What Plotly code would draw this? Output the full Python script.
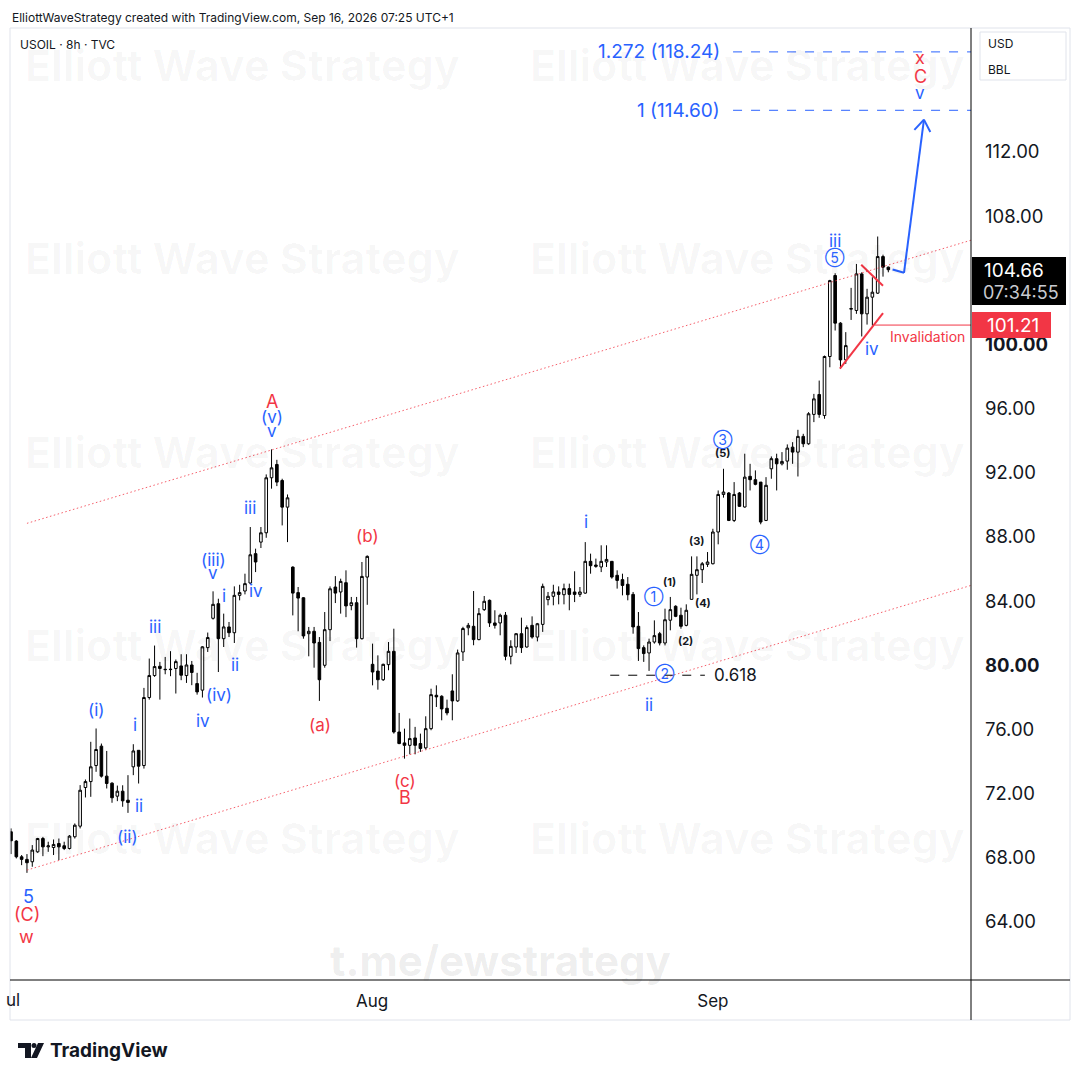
import plotly.graph_objects as go

# ---------------- data (USOIL 8h candles) ----------------
opens = [69.62, 69.04, 68.06, 67.90, 67.75, 68.37, 69.20, 68.68, 68.64, 68.89,
         68.75, 68.58, 69.31, 69.97, 72.38, 72.75, 73.75, 74.96, 73.09, 72.65,
         71.84, 72.15, 71.59, 73.67, 74.70, 73.75, 77.99, 79.36, 79.94, 79.75,
         79.73, 79.80, 79.96, 79.36, 80.02, 78.86, 78.45, 81.10, 82.93, 83.84,
         81.66, 82.39, 82.03, 84.36, 84.63, 85.13, 86.96, 87.68, 88.26, 91.69,
         92.52, 91.52, 89.86, 86.12, 84.53, 84.21, 81.97, 82.12, 81.43, 80.00,
         82.22, 84.88, 84.57, 85.15, 83.72, 83.90, 81.66, 85.50, 80.06, 79.64,
         79.10, 80.04, 80.87, 75.84, 75.16, 75.01, 75.47, 75.12, 74.85, 76.05,
         78.13, 78.07, 77.32, 78.40, 77.78, 80.83, 82.34, 82.43, 81.60, 83.47,
         84.05, 82.64, 82.64, 83.12, 80.56, 81.14, 81.97, 81.14, 82.49, 81.76,
         82.55, 84.09, 84.30, 84.57, 84.40, 84.78, 84.57, 84.42, 84.50, 86.48,
         86.25, 86.13, 86.44, 86.48, 85.61, 85.34, 85.05, 84.42, 82.43, 81.10,
         80.77, 81.45, 81.97, 81.39, 82.81, 83.68, 83.12, 82.49, 84.11, 85.61,
         85.96, 86.29, 86.33, 88.31, 90.65, 90.74, 89.03, 90.74, 89.87, 91.78,
         91.57, 91.42, 89.03, 92.25, 92.88, 92.56, 92.73, 93.60, 93.29, 94.27,
         93.81, 95.64, 96.88, 95.57, 99.25, 104.30, 101.33, 99.04, 102.20, 102.12,
         104.40, 101.91, 102.95, 103.20, 105.48, 104.82]
highs = [69.83, 69.10, 68.17, 68.23, 68.79, 69.24, 69.30, 69.00, 69.14, 69.20,
         69.00, 69.41, 70.14, 72.53, 72.88, 75.23, 76.06, 75.12, 74.66, 72.71,
         72.50, 72.52, 73.15, 75.08, 74.70, 78.59, 80.42, 81.23, 80.21, 80.52,
         80.88, 80.36, 80.69, 80.69, 80.27, 79.53, 81.19, 82.04, 84.61, 84.15,
         83.22, 82.70, 84.92, 85.02, 85.71, 88.62, 87.27, 88.62, 91.90, 93.46,
         92.81, 91.63, 90.65, 86.17, 84.88, 84.25, 82.39, 82.39, 81.76, 83.32,
         84.92, 85.56, 85.40, 85.92, 84.26, 84.26, 86.44, 86.85, 81.35, 80.62,
         80.10, 81.45, 82.28, 77.03, 76.05, 76.68, 76.16, 75.74, 76.82, 78.54,
         78.75, 78.13, 77.86, 79.44, 80.98, 82.40, 82.64, 84.63, 83.57, 84.32,
         84.10, 83.43, 83.22, 83.32, 81.56, 82.00, 82.97, 82.49, 83.05, 82.64,
         85.09, 84.57, 85.02, 84.92, 85.09, 85.09, 85.86, 84.88, 87.68, 86.96,
         86.65, 87.48, 87.48, 86.50, 85.92, 85.71, 85.50, 84.57, 83.32, 81.24,
         81.66, 82.80, 82.08, 83.53, 84.26, 83.74, 83.59, 83.80, 86.79, 86.79,
         86.44, 87.06, 88.51, 90.90, 92.25, 90.80, 91.42, 90.80, 93.19, 92.56,
         92.15, 91.42, 91.73, 93.02, 93.19, 93.29, 93.77, 93.91, 94.68, 94.43,
         95.78, 96.92, 97.75, 99.31, 104.03, 104.44, 101.39, 100.77, 103.53, 105.02,
         104.50, 103.47, 104.19, 106.73, 105.60, 104.86]
lows = [68.23, 67.96, 67.54, 67.06, 67.44, 68.31, 68.10, 68.37, 68.17, 67.85,
        68.48, 68.52, 69.20, 69.83, 71.76, 71.80, 73.36, 73.00, 72.32, 71.43,
        71.53, 71.18, 70.80, 73.15, 72.63, 73.56, 77.86, 79.28, 77.86, 79.44,
        79.32, 78.24, 79.07, 78.90, 78.76, 78.17, 77.99, 80.83, 82.85, 79.58,
        81.14, 81.76, 81.39, 84.05, 84.42, 85.05, 85.81, 87.31, 87.95, 91.01,
        91.17, 88.72, 87.68, 83.11, 82.12, 81.66, 80.56, 79.85, 77.78, 79.85,
        81.51, 83.88, 83.22, 83.00, 83.43, 81.10, 81.60, 83.77, 78.75, 78.48,
        79.02, 79.69, 75.74, 75.08, 74.18, 74.45, 74.45, 74.60, 74.75, 75.95,
        77.40, 76.57, 76.88, 76.57, 77.72, 80.27, 81.87, 81.25, 81.56, 83.39,
        82.39, 82.29, 81.87, 80.31, 80.06, 80.77, 80.77, 81.10, 81.66, 81.49,
        82.08, 83.74, 83.74, 83.80, 83.80, 83.43, 83.94, 84.26, 84.46, 85.71,
        86.08, 85.81, 86.13, 85.40, 84.78, 84.36, 84.05, 81.97, 80.27, 80.21,
        79.65, 81.35, 81.24, 81.24, 82.18, 83.00, 82.28, 82.43, 84.09, 84.42,
        85.13, 86.13, 86.29, 87.54, 90.45, 88.99, 88.93, 89.87, 89.82, 90.90,
        91.22, 88.79, 88.99, 91.63, 90.90, 92.46, 92.19, 92.56, 91.77, 93.60,
        93.75, 95.16, 95.43, 95.37, 98.58, 100.87, 98.48, 98.79, 101.53, 101.91,
        100.50, 101.24, 101.18, 103.15, 104.23, 104.50]
closes = [69.06, 68.06, 67.90, 67.69, 68.48, 69.20, 68.68, 68.74, 68.83, 68.68,
          68.58, 69.35, 70.03, 72.21, 72.75, 73.67, 74.75, 73.09, 72.63, 71.74,
          72.15, 71.55, 71.45, 74.66, 73.71, 77.99, 79.36, 79.92, 79.80, 79.73,
          79.75, 80.23, 79.38, 80.02, 79.55, 78.34, 81.15, 81.73, 83.80, 81.66,
          82.39, 82.03, 84.36, 84.53, 85.09, 86.89, 86.44, 88.26, 91.69, 92.31,
          91.42, 89.86, 90.44, 84.50, 84.19, 81.83, 82.12, 81.39, 79.10, 82.22,
          84.77, 84.50, 85.23, 83.70, 83.90, 81.66, 85.54, 86.79, 79.58, 79.10,
          80.06, 80.87, 75.84, 75.12, 75.01, 75.43, 75.01, 74.81, 76.05, 78.17,
          78.03, 77.28, 77.03, 77.78, 80.77, 82.29, 82.49, 81.60, 83.22, 83.99,
          82.64, 82.49, 83.12, 80.56, 81.18, 81.97, 81.10, 82.35, 81.76, 82.59,
          84.92, 84.30, 84.57, 84.42, 84.78, 84.42, 84.42, 84.57, 86.48, 86.21,
          86.17, 86.48, 86.60, 85.50, 85.29, 84.98, 84.40, 82.39, 81.04, 80.73,
          81.45, 81.85, 81.39, 82.84, 83.47, 83.05, 82.43, 83.43, 85.67, 85.96,
          86.33, 86.44, 88.31, 90.65, 90.80, 89.03, 90.65, 89.91, 91.73, 91.57,
          91.28, 88.93, 91.22, 92.88, 92.56, 92.71, 93.54, 93.29, 94.27, 93.81,
          95.68, 96.61, 95.64, 99.25, 103.98, 101.33, 99.04, 99.93, 102.24, 104.40,
          101.91, 102.95, 103.26, 105.48, 104.82, 104.66]
bar_index = list(range(len(opens)))

month_labels = ["Aug", "Sep"]
month_pos = [67.9, 132.0]
price_ticks = [64, 68, 72, 76, 80, 84, 88, 92, 96, 100, 108, 112]
bold_ticks = [80, 100]

last_price = 104.66
countdown = "07:34:55"
invalidation = 101.21
fib_levels = [118.24, 114.60]
fib_texts = ["1.272 (118.24)", "1 (114.60)"]
retrace_level = 79.38
retrace_text = "0.618"

# drawn lines (bar index, price)
channel_upper = [(3.0, 88.85), (180.55, 106.50)]
channel_lower = [(3.0, 67.23), (180.55, 84.98)]
tri_upper = [(159.9, 104.97), (164.0, 103.66)]
tri_lower = [(155.9, 98.49), (164.0, 101.95)]
projection = [(165.8, 104.67), (167.95, 104.47), (171.7, 114.02)]
arrow_head = [(169.9, 113.38), (171.7, 114.02), (172.9, 113.25)]
retrace_span = (112.7, 130.5)
fib_start = 135.8
invalid_start = 162.5

BLUE = "#2962ff"
RED = "#f23645"
BLACK = "#131722"

# wave labels: text, bar index, price, colour, size, bold
wave_labels = [
    ("5", 3.2, 65.61, BLUE, 18, False), ("(C)", 3.0, 64.49, RED, 18, False), ("w", 3.0, 63.11, RED, 18, False),
    ("(i)", 16.0, 77.20, BLUE, 17, False), ("(ii)", 22.0, 69.28, BLUE, 17, False),
    ("i", 23.3, 76.26, BLUE, 17, False), ("ii", 24.1, 71.22, BLUE, 17, False),
    ("iii", 27.1, 82.37, BLUE, 17, False), ("iv", 36.1, 76.51, BLUE, 17, False),
    ("(iv)", 39.1, 78.13, BLUE, 17, False), ("(iii)", 38.0, 86.54, BLUE, 17, False),
    ("v", 38.0, 85.73, BLUE, 17, False), ("i", 40.1, 84.30, BLUE, 17, False),
    ("ii", 42.1, 80.00, BLUE, 17, False), ("iv", 46.1, 84.61, BLUE, 17, False),
    ("iii", 45.0, 89.78, BLUE, 17, False), ("A", 49.1, 96.45, RED, 18, False),
    ("(v)", 49.1, 95.51, BLUE, 17, False), ("v", 49.1, 94.58, BLUE, 17, False),
    ("(a)", 58.1, 76.26, RED, 17, False), ("(b)", 67.0, 88.04, RED, 17, False),
    ("(c)", 74.1, 72.77, RED, 17, False), ("B", 74.1, 71.78, RED, 18, False),
    ("i", 108.1, 88.91, BLUE, 17, False), ("ii", 120.0, 77.51, BLUE, 17, False),
    ("①", 120.9, 84.30, BLUE, 14, False), ("②", 123.0, 79.50, BLUE, 14, False),
    ("(1)", 123.9, 85.17, BLACK, 11, True), ("(2)", 126.9, 81.50, BLACK, 11, True),
    ("(3)", 129.0, 87.73, BLACK, 11, True), ("(4)", 130.1, 83.86, BLACK, 11, True),
    ("(5)", 133.9, 93.21, BLACK, 11, True), ("③", 133.9, 94.08, BLUE, 14, False),
    ("④", 140.9, 87.54, BLUE, 14, False), ("iii", 155.0, 106.48, BLUE, 17, False),
    ("⑤", 155.0, 105.42, BLUE, 14, False), ("iv", 161.9, 99.69, BLUE, 17, False),
    ("x", 171.0, 117.88, RED, 18, False), ("C", 171.0, 116.70, RED, 18, False),
    ("v", 171.0, 115.70, BLUE, 17, False),
]

# ---------------- layout geometry (pixels) ----------------
W, H = 1080, 1080
PL, PR, PT, PB = 10, 971, 28, 980
FONT = "Inter, Roboto, Noto Sans, sans-serif"


def fx(p):
    return (p - PL) / (PR - PL)


def fy(p):
    return (PB - p) / (PB - PT)


fig = go.Figure()
fig.add_trace(go.Candlestick(
    x=bar_index, open=opens, high=highs, low=lows, close=closes,
    increasing=dict(line=dict(color="#000000", width=1), fillcolor="#ffffff"),
    decreasing=dict(line=dict(color="#000000", width=1), fillcolor="#000000"),
    whiskerwidth=0, hoverinfo="skip", showlegend=False,
))

shapes = []
annotations = []

# watermarks
for yy in [65, 258, 452, 645, 838]:
    for xx in [242, 747]:
        annotations.append(dict(xref="paper", yref="paper", x=fx(xx), y=fy(yy),
                                text="<b>Elliott Wave Strategy</b>", showarrow=False,
                                font=dict(family=FONT, size=43, color="rgba(0,0,0,0.03)"),
                                xanchor="center", yanchor="middle"))
annotations.append(dict(xref="paper", yref="paper", x=fx(500), y=fy(960),
                        text="<b>t.me/ewstrategy</b>", showarrow=False,
                        font=dict(family=FONT, size=42, color="rgba(0,0,0,0.08)"),
                        xanchor="center", yanchor="middle"))


def seg(p0, p1, color, width=1, dash="solid"):
    shapes.append(dict(type="line", xref="x", yref="y", x0=p0[0], y0=p0[1], x1=p1[0], y1=p1[1],
                       line=dict(color=color, width=width, dash=dash)))


# channel
seg(channel_upper[0], channel_upper[1], "rgba(242,54,69,0.8)", 1, "1.5px,2.5px")
seg(channel_lower[0], channel_lower[1], "rgba(242,54,69,0.8)", 1, "1.5px,2.5px")
# triangle
seg(tri_upper[0], tri_upper[1], RED, 2)
seg(tri_lower[0], tri_lower[1], RED, 2)
# projection
for a, b in zip(projection[:-1], projection[1:]):
    seg(a, b, BLUE, 2)
for a, b in zip(arrow_head[:-1], arrow_head[1:]):
    seg(a, b, BLUE, 2)
# 0.618 retrace
seg((retrace_span[0], retrace_level), (retrace_span[1], retrace_level), "#000000", 1, "dash")
annotations.append(dict(x=retrace_span[1] + 1.4, y=retrace_level, text=retrace_text, showarrow=False,
                        xanchor="left", yanchor="middle", font=dict(family=FONT, size=17, color=BLACK)))
# fib levels
for lvl, txt in zip(fib_levels, fib_texts):
    shapes.append(dict(type="line", xref="x", yref="y", x0=fib_start, x1=180.55, y0=lvl, y1=lvl,
                       line=dict(color=BLUE, width=1, dash="dash")))
    annotations.append(dict(x=fib_start - 2.1, y=lvl, text=txt, showarrow=False, xanchor="right",
                            yanchor="middle", font=dict(family=FONT, size=19, color=BLUE)))
# invalidation
shapes.append(dict(type="line", xref="x", yref="y", x0=invalid_start, x1=180.55, y0=invalidation,
                   y1=invalidation, line=dict(color=RED, width=1)))
annotations.append(dict(xref="paper", yref="paper", x=fx(927), y=fy(337), text="Invalidation",
                        showarrow=False, xanchor="center", yanchor="middle",
                        font=dict(family=FONT, size=14, color=RED)))

# wave labels
for txt, xi, yv, col, sz, bold in wave_labels:
    annotations.append(dict(x=xi, y=yv, text=f"<b>{txt}</b>" if bold else txt, showarrow=False,
                            xanchor="center", yanchor="middle",
                            font=dict(family=FONT, size=sz, color=col)))

# frame / panes
shapes.append(dict(type="rect", xref="paper", yref="paper", x0=fx(10), x1=fx(1070), y0=fy(28), y1=fy(1020),
                   line=dict(color="#e0e3eb", width=1)))
shapes.append(dict(type="line", xref="paper", yref="paper", x0=fx(971), x1=fx(971), y0=fy(28), y1=fy(1020),
                   line=dict(color="#000000", width=1)))
shapes.append(dict(type="line", xref="paper", yref="paper", x0=fx(10), x1=fx(1070), y0=fy(980), y1=fy(980),
                   line=dict(color="#000000", width=1)))
# unit box
shapes.append(dict(type="rect", xref="paper", yref="paper", x0=fx(980), x1=fx(1066), y0=fy(32), y1=fy(80),
                   line=dict(color="#e0e3eb", width=1)))
annotations.append(dict(xref="paper", yref="paper", x=fx(986), y=fy(43), text="USD", showarrow=False,
                        xanchor="left", yanchor="middle", font=dict(family=FONT, size=12, color=BLACK)))
annotations.append(dict(xref="paper", yref="paper", x=fx(986), y=fy(70), text="BBL", showarrow=False,
                        xanchor="left", yanchor="middle", font=dict(family=FONT, size=12, color=BLACK)))
# last price box
shapes.append(dict(type="rect", xref="paper", yref="paper", x0=fx(972), x1=fx(1066), y0=fy(257), y1=fy(305),
                   fillcolor="#000000", line=dict(width=0)))
annotations.append(dict(xref="paper", yref="paper", x=fx(1014), y=fy(270), text=f"{last_price:.2f}",
                        showarrow=False, xanchor="center", yanchor="middle",
                        font=dict(family=FONT, size=19, color="#ffffff")))
annotations.append(dict(xref="paper", yref="paper", x=fx(1021), y=fy(292), text=countdown,
                        showarrow=False, xanchor="center", yanchor="middle",
                        font=dict(family=FONT, size=18, color="#c8cad0")))
# invalidation price box
shapes.append(dict(type="rect", xref="paper", yref="paper", x0=fx(972), x1=fx(1051), y0=fy(312), y1=fy(338),
                   fillcolor=RED, line=dict(width=0)))
annotations.append(dict(xref="paper", yref="paper", x=fx(1013), y=fy(325), text=f"{invalidation:.2f}",
                        showarrow=False, xanchor="center", yanchor="middle",
                        font=dict(family=FONT, size=19, color="#ffffff")))

# headers
annotations.append(dict(xref="paper", yref="paper", x=fx(10), y=fy(17),
                        text="ElliottWaveStrategy created with TradingView.com, Sep 16, 2026 07:25 UTC+1",
                        showarrow=False, xanchor="left", yanchor="middle",
                        font=dict(family=FONT, size=12, color=BLACK)))
annotations.append(dict(xref="paper", yref="paper", x=fx(18), y=fy(44), text="USOIL · 8h · TVC",
                        showarrow=False, xanchor="left", yanchor="middle",
                        font=dict(family=FONT, size=12, color=BLACK)))
annotations.append(dict(xref="paper", yref="paper", x=fx(4), y=fy(1000), text="ul",
                        showarrow=False, xanchor="left", yanchor="middle",
                        font=dict(family=FONT, size=17, color=BLACK)))
# TradingView logo
shapes.append(dict(type="path", xref="paper", yref="paper",
                   path=f"M {fx(18)},{fy(1043)} L {fx(31)},{fy(1043)} L {fx(31)},{fy(1058)} L {fx(25)},{fy(1058)} "
                        f"L {fx(25)},{fy(1048)} L {fx(18)},{fy(1048)} Z",
                   fillcolor=BLACK, line=dict(width=0)))
shapes.append(dict(type="circle", xref="paper", yref="paper", x0=fx(31.5), x1=fx(36.5), y0=fy(1043), y1=fy(1048),
                   fillcolor=BLACK, line=dict(width=0)))
shapes.append(dict(type="path", xref="paper", yref="paper",
                   path=f"M {fx(38)},{fy(1043)} L {fx(44)},{fy(1043)} L {fx(37)},{fy(1058)} L {fx(31)},{fy(1058)} Z",
                   fillcolor=BLACK, line=dict(width=0)))
annotations.append(dict(xref="paper", yref="paper", x=fx(48), y=fy(1050), text="<b>TradingView</b>",
                        showarrow=False, xanchor="left", yanchor="middle",
                        font=dict(family=FONT, size=19, color=BLACK)))

tick_text = [f"<b>{t:.2f}</b>" if t in bold_ticks else f"{t:.2f}" for t in price_ticks]

fig.update_layout(
    width=W, height=H, autosize=False,
    margin=dict(l=PL, r=W - PR, t=PT, b=H - PB),
    paper_bgcolor="#ffffff", plot_bgcolor="#ffffff",
    showlegend=False, hovermode=False,
    shapes=shapes, annotations=annotations,
    xaxis=dict(range=[-0.19, 180.55], rangeslider=dict(visible=False), showgrid=False, zeroline=False,
               showline=False, ticks="", tickvals=month_pos, ticktext=month_labels,
               tickfont=dict(family=FONT, size=17, color=BLACK), ticklabelstandoff=9, fixedrange=True),
    yaxis=dict(range=[60.38, 119.73], side="right", showgrid=False, zeroline=False, showline=False,
               ticks="", tickvals=price_ticks, ticktext=tick_text,
               tickfont=dict(family=FONT, size=18.5, color=BLACK), ticklabelstandoff=13, fixedrange=True),
)

# the page's default 8px body margin would shift the 1080x1080 figure; remove it
fig.write_html("out.html", config={"displayModeBar": False},
               post_script="document.body.style.margin='0';")
